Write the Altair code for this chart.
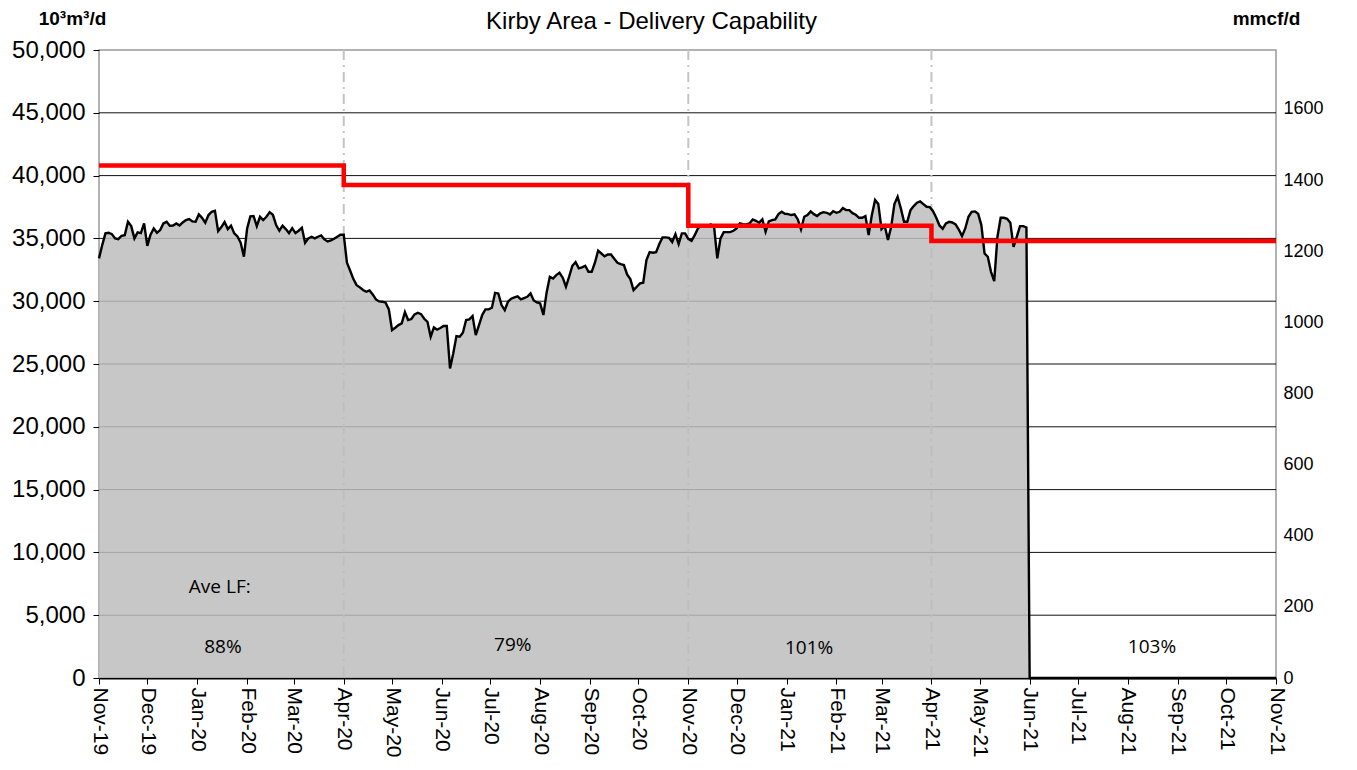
import altair as alt
import pandas as pd

# ---- daily flow (10^3 m3/d), sampled every 2 days from 2019-11-01 ----
seg1 = [33410, 34470, 35400, 35450, 35340, 35000, 34940, 35210, 35260, 36320,
        35980, 35000, 35480, 35420, 36190, 34400, 35300, 35790, 35450, 35660,
        36190, 36320, 36010, 36030, 36190, 36030, 36270, 36460, 36540, 36350,
        36320, 36910, 36640, 36250, 36860, 37120, 37200, 35580, 35900, 36300,
        35740, 36010, 35400, 35160, 34650, 33540, 35790, 36750, 36780, 35980,
        36720, 36460, 36720, 37090, 36880, 36060, 35610, 36010, 35740, 35420,
        35820, 35420, 35610, 35850, 34650, 35000, 35130, 35000, 35130, 35240,
        34920, 34760, 34840, 34970, 35130, 35290, 35300]
seg2 = [33060, 32420, 31760, 31280, 31100, 30890, 30750, 30860, 30540, 30140,
        29980, 29960, 29880, 29350, 27700, 27890, 28100, 28230, 29130, 28500,
        28580, 28950, 29080, 28970, 28600, 28360, 27170, 27910, 27730, 27860,
        28020, 28020, 24650, 25840, 27220, 27170, 27490, 28500, 28550, 28820,
        27300, 28100, 28900, 29350, 29350, 29480, 30670, 30620, 29690, 29290,
        29960, 30200, 30300, 30380, 30140, 30250, 30350, 30620, 30060, 29900,
        29820, 28900, 30700, 31950, 31810, 32080, 32260, 31870, 31150, 31950,
        32820, 33110, 32610]
seg3 = [32690, 32820, 32340, 32340, 33060, 34020, 33800, 33570, 33720, 33720,
        33380, 33060, 32950, 32880, 32130, 31760, 30880, 31150, 31420, 31470,
        33270, 33910, 33860, 33910, 34550, 35080, 35080, 35050, 34710, 35340,
        34550, 35400, 35400, 34970, 34810, 35260, 35790, 36060, 35980, 35980,
        36110, 35930, 33410, 35000, 35500, 35500, 35500, 35610, 35790, 36190,
        36140, 36110, 36190, 36510, 36400, 36250, 36510, 35530, 36350, 36460,
        36510, 36930, 37120, 36960, 36930, 36860, 36910, 36510, 35710]
seg4 = [36720, 36860, 37150, 36930, 36780, 36990, 37090, 37040, 36910, 37170,
        37040, 37120, 37410, 37250, 37250, 37010, 36880, 36640, 36640, 36780,
        35260, 36860, 38050, 37730, 35740, 36010, 34870, 35930, 37730, 38310,
        37390, 36320, 36320, 37250, 37570, 37840, 37940, 37730, 37520, 37490,
        37170, 36640, 36030, 35770, 36190, 36320, 36270, 36110, 35710, 35180,
        35790, 36720, 37120, 37150, 36960, 36060, 33800, 33540, 32340, 31600,
        35130, 36640, 36640, 36560, 36250, 34330, 35130, 35980, 35980, 35870]
tail_dates = ["2021-06-01", "2021-11-01"]
tail_vals = [0, 0]

# ---- capacity step line ----
cap_dates = ["2019-11-01", "2020-04-01", "2020-11-01", "2021-04-01", "2021-11-01"]
cap_vals = [40800, 39250, 36000, 34800, 34800]

# ---- period boundaries ----
period_dates = ["2020-04-01", "2020-11-01", "2021-04-01"]

# ---- annotations ----
ann_dates = ["2020-01-15", "2020-01-17", "2020-07-15", "2021-01-15", "2021-08-16"]
ann_vals = [7250, 2470, 2630, 2390, 2470]
ann_texts = ["Ave LF:", "88%", "79%", "101%", "103%"]

# ---- axis ticks ----
left_ticks = [0, 5000, 10000, 15000, 20000, 25000, 30000, 35000, 40000, 45000, 50000]
grid_vals = [5000, 10000, 15000, 20000, 25000, 30000, 35000, 40000, 45000]
right_ticks = [0, 200, 400, 600, 800, 1000, 1200, 1400, 1600]
month_ticks = [(2019, 11), (2019, 12)] + [(2020, m) for m in range(1, 13)] + \
              [(2021, m) for m in range(1, 12)]
M3_TO_MMCF = 0.0353147

flow = seg1 + seg2 + seg3 + seg4
flow_dates = pd.date_range("2019-11-01", periods=len(flow), freq="2D")
df = pd.DataFrame({
    "d": [d.strftime("%Y-%m-%dT00:00:00") for d in flow_dates] + [t + "T00:00:00" for t in tail_dates],
    "v": flow + tail_vals,
})
cap_df = pd.DataFrame({"d": [t + "T00:00:00" for t in cap_dates], "v": cap_vals})
per_df = pd.DataFrame({"d": [t + "T00:00:00" for t in period_dates]})
ann_df = pd.DataFrame({"d": [t + "T00:00:00" for t in ann_dates], "v": ann_vals, "t": ann_texts})
grid_df = pd.DataFrame({"v": grid_vals})

FONT = "Liberation Sans"
x_scale = alt.Scale(domain=[alt.DateTime(year=2019, month=11, date=1),
                            alt.DateTime(year=2021, month=11, date=1)])
x_axis = alt.Axis(values=[alt.DateTime(year=y, month=m, date=1) for y, m in month_ticks],
                  format="%b-%y", labelAngle=90, labelFontSize=21, labelFont=FONT,
                  labelColor="black", tickColor="black", tickSize=6, domainColor="black",
                  domainWidth=2, labelPadding=3, title=None, grid=False,
                  labelOverlap=False, labelFlush=False, labelBound=False)
y_scale = alt.Scale(domain=[0, 50000], nice=False, zero=True)
y_axis = alt.Axis(values=left_ticks, format=",d", labelFontSize=24, labelFont=FONT,
                  labelColor="black", tickColor="black", tickSize=6, labelPadding=8,
                  domain=False, grid=False, title="10³m³/d", titleAngle=0,
                  titleFont=FONT, titleFontSize=19, titleFontWeight="bold",
                  titleColor="black", titleX=-27, titleY=-32, titleAlign="center",
                  titleBaseline="middle")

X = alt.X("d:T", scale=x_scale, axis=x_axis)
Y = alt.Y("v:Q", scale=y_scale, axis=y_axis)

grid = alt.Chart(grid_df).mark_rule(color="#111111", strokeWidth=1).encode(y=Y)
periods = alt.Chart(per_df).mark_rule(color="#c4c4c4", strokeWidth=2,
                                      strokeDash=[10, 5, 2, 5]).encode(x=X)
area = alt.Chart(df).mark_area(color="#bdbdbd", opacity=0.85).encode(x=X, y=Y)
line = alt.Chart(df).mark_line(color="black", strokeWidth=2.4).encode(x=X, y=Y)
cap = alt.Chart(cap_df).mark_line(color="#ff0000", strokeWidth=4.5,
                                  interpolate="step-after").encode(x=X, y=Y)
txt = alt.Chart(ann_df).mark_text(font="Open Sans", fontSize=19, color="black").encode(
    x=X, y=Y, text="t:N")

main = alt.layer(grid, periods, area, line, cap, txt)

right = alt.Chart(cap_df).transform_calculate(mm=f"datum.v*{M3_TO_MMCF}").mark_point(
    opacity=0).encode(
    y=alt.Y("mm:Q", scale=alt.Scale(domain=[0, 50000 * M3_TO_MMCF], nice=False),
            axis=alt.Axis(orient="right", values=right_ticks, format="d", labelFontSize=18,
                          labelFont=FONT, labelColor="black", tickSize=0, labelPadding=7,
                          domain=False, grid=False, title="mmcf/d", titleAngle=0,
                          titleFont=FONT, titleFontSize=19, titleFontWeight="bold",
                          titleColor="black", titleX=-10, titleY=-32,
                          titleAlign="center", titleBaseline="middle")))

chart = alt.layer(main, right).resolve_scale(y="independent").properties(
    width=1177, height=628,
    autosize=alt.AutoSizeParams(type="none"),
    padding={"left": 91, "top": 42, "right": 73, "bottom": 84},
    title=alt.TitleParams("Kirby Area - Delivery Capability", font=FONT, fontSize=24,
                          fontWeight="normal", color="black", anchor="middle",
                          dx=-36, dy=29),
).configure_view(stroke="#999999", strokeWidth=1.5)

chart.save("out.html", embed_options={"renderer": "svg", "actions": False})
